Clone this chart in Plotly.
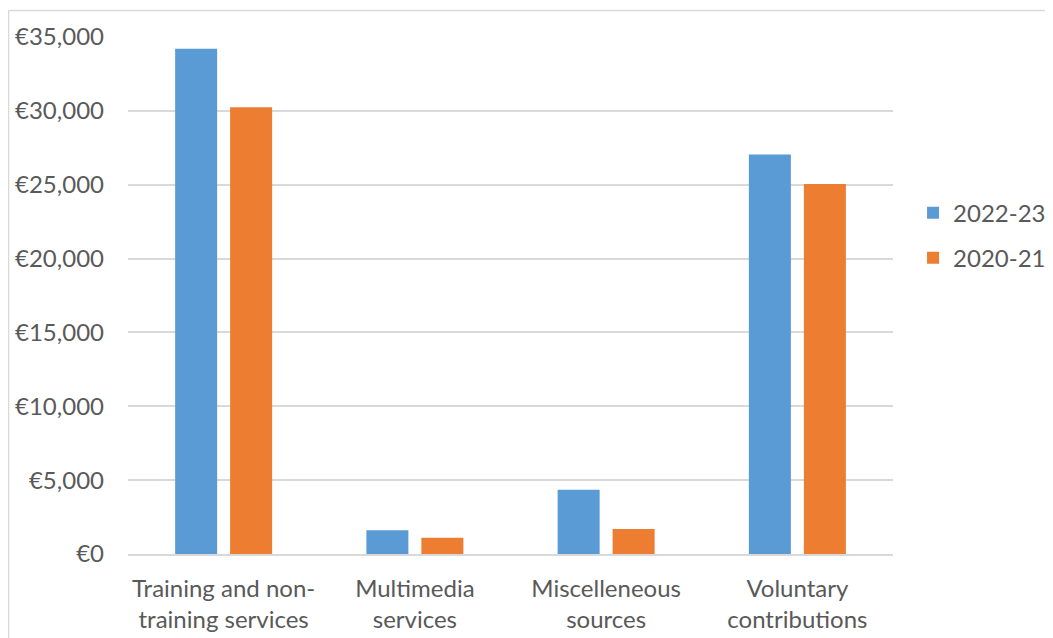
import plotly.graph_objects as go

categories = ["Training and non-<br>training services", "Multimedia<br>services",
              "Miscelleneous<br>sources", "Voluntary<br>contributions"]
series_names = ["2022-23", "2020-21"]
values_2022_23 = [34200, 1600, 4350, 27050]
values_2020_21 = [30250, 1100, 1700, 25050]
y_ticks = [0, 5000, 10000, 15000, 20000, 25000, 30000, 35000]
y_tick_labels = ["€0", "€5,000", "€10,000", "€15,000", "€20,000", "€25,000", "€30,000", "€35,000"]

colors = ["#5B9BD5", "#ED7D31"]
font_family = "Lato, 'Open Sans', sans-serif"
text_color = "#595959"
fs = 24

fig = go.Figure()
for i, (name, vals) in enumerate(zip(series_names, [values_2022_23, values_2020_21])):
    fig.add_trace(go.Bar(
        x=categories, y=vals, name=name,
        marker=dict(color=colors[i], line=dict(width=0)),
        legendgroup=name,
    ))

fig.update_layout(
    width=1045, height=630,
    margin=dict(l=120, r=160, t=29, b=84, autoexpand=False),
    paper_bgcolor="white", plot_bgcolor="white",
    barmode="group", bargap=0.425, bargroupgap=0.236,
    font=dict(family=font_family, size=fs, color=text_color),
    legend=dict(x=1.0262, xanchor="left", y=0.616, yanchor="middle",
                tracegroupgap=11, font=dict(size=fs, color=text_color)),
    shapes=[
        dict(type="line", xref="paper", yref="paper", x0=-0.1562, x1=-0.1562,
             y0=-0.2, y1=1.0513, line=dict(color="#d9d9d9", width=1.5)),
        dict(type="line", xref="paper", yref="paper", x0=-0.1562, x1=1.3,
             y0=1.0513, y1=1.0513, line=dict(color="#d9d9d9", width=1.5)),
    ],
)

fig.update_xaxes(showline=True, linecolor="#d9d9d9", linewidth=1.5,
                 showgrid=False, ticks="", ticklabelstandoff=12, automargin=False,
                 tickfont=dict(size=fs, color=text_color))
fig.update_yaxes(range=[0, 35000], tickvals=y_ticks, ticktext=y_tick_labels,
                 showgrid=True, gridcolor="#d9d9d9", gridwidth=1.5, automargin=False,
                 zeroline=False, showline=False, ticklabelstandoff=23,
                 tickfont=dict(size=fs, color=text_color))

fig.write_html("out.html")
